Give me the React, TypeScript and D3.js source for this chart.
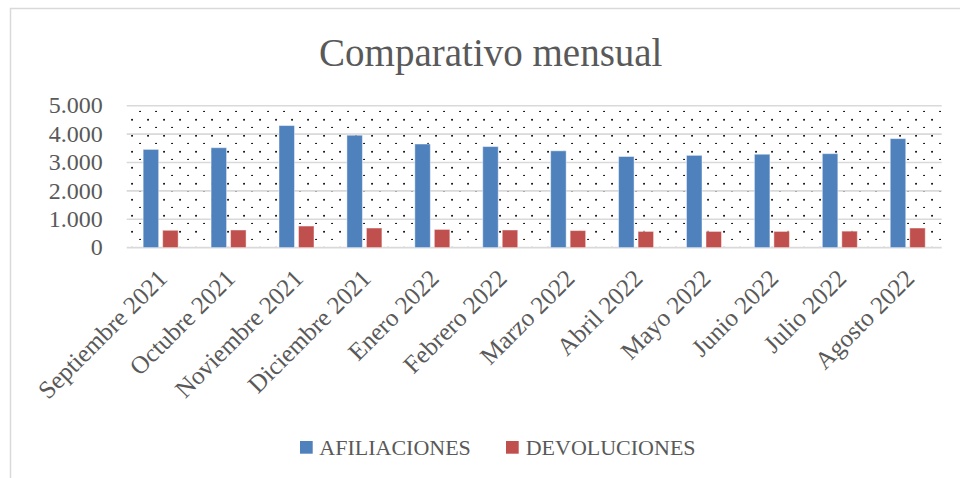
import * as d3 from "d3"

const months = [
  "Septiembre 2021", "Octubre 2021", "Noviembre 2021", "Diciembre 2021",
  "Enero 2022", "Febrero 2022", "Marzo 2022", "Abril 2022",
  "Mayo 2022", "Junio 2022", "Julio 2022", "Agosto 2022",
]
const afiliaciones = [3460, 3520, 4300, 3960, 3650, 3560, 3410, 3210, 3250, 3290, 3310, 3840]
const devoluciones = [610, 620, 760, 690, 640, 620, 600, 570, 570, 570, 580, 690]
const seriesNames = ["AFILIACIONES", "DEVOLUCIONES"]
const yTicks = [0, 1000, 2000, 3000, 4000, 5000]

const W = 960
const H = 478
const FONT = "'Liberation Serif', 'Times New Roman', serif"
const TEXT = "#595959"
const GRID = "#D9D9D9"
const colors = ["#4F81BD", "#C0504D"]

const fmt = d3.formatLocale({ decimal: ",", thousands: ".", grouping: [3], currency: ["", ""] }).format(",")

export default function App() {
  const plot = { left: 126.7, right: 941.7, top: 105.7, bottom: 247.6 }

  const x = d3.scaleBand().domain(months).range([plot.left, plot.right])
  const x1 = d3.scaleBand().domain(seriesNames).range([-17.5, 17.5]).paddingInner(0.205)
  const y = d3.scaleLinear().domain([0, 5000]).range([plot.bottom, plot.top])

  const values = [afiliaciones, devoluciones]

  return (
    <div style={{ position: "absolute", left: 0, top: 0 }}>
      <svg width={W} height={H} style={{ display: "block", fontFamily: FONT }}>
        <defs>
          <pattern id="dots" patternUnits="userSpaceOnUse" width={16} height={16}>
            <rect x={11.2} y={14.9} width={1.7} height={1.7} fill="#000" />
            <rect x={3.2} y={6.9} width={1.7} height={1.7} fill="#000" />
          </pattern>
        </defs>

        <rect x={0} y={0} width={W} height={H} fill="#fff" />
        {/* chart frame, runs off the right and bottom edges */}
        <rect x={10.5} y={8.5} width={W + 20} height={H + 20} fill="#fff" stroke={GRID} strokeWidth={1.5} />

        <text x={490.8} y={65.7} textAnchor="middle" fontSize={39} fill={TEXT}>
          Comparativo mensual
        </text>

        {/* plot area */}
        <rect x={plot.left} y={plot.top} width={plot.right - plot.left} height={plot.bottom - plot.top} fill="url(#dots)" />

        {yTicks.map(t => (
          <line key={t} x1={plot.left} x2={plot.right} y1={y(t)} y2={y(t)} stroke={GRID} strokeWidth={1.6} />
        ))}

        {yTicks.map(t => (
          <text key={t} x={102.7} y={y(t)} dy="0.32em" textAnchor="end" fontSize={24} fill={TEXT}>
            {fmt(t)}
          </text>
        ))}

        {months.map((m, i) => {
          const cx = x(m)! + x.bandwidth() / 2
          return (
            <g key={m}>
              {seriesNames.map((s, j) => {
                const v = values[j][i]
                return (
                  <rect
                    key={s}
                    x={cx + x1(s)!}
                    y={y(v)}
                    width={x1.bandwidth()}
                    height={y(0) - y(v)}
                    fill={colors[j]}
                    stroke="#fff"
                    strokeOpacity={0.45}
                    strokeWidth={1}
                  />
                )
              })}
              <text
                transform={`translate(${cx + 8},280) rotate(-45)`}
                textAnchor="end"
                fontSize={25}
                fill={TEXT}
              >
                {m}
              </text>
            </g>
          )
        })}

        {/* legend */}
        <rect x={300} y={441} width={12.7} height={12.7} fill={colors[0]} />
        <text x={319.3} y={455} fontSize={22} fill={TEXT}>{seriesNames[0]}</text>
        <rect x={506} y={441} width={12.7} height={12.7} fill={colors[1]} />
        <text x={525.7} y={455} fontSize={22} fill={TEXT}>{seriesNames[1]}</text>
      </svg>
    </div>
  )
}
